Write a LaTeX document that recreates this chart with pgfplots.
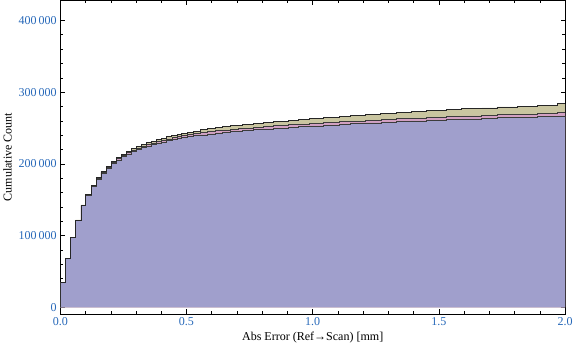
\documentclass[border=0pt]{standalone}
\usepackage{pgfplots}
\pgfplotsset{compat=1.18}
\usepackage{pgfplotstable}
\usepackage{fontspec}
\setmainfont{Liberation Serif}
\definecolor{blueA}{RGB}{160,159,204}
\definecolor{pinkA}{RGB}{210,160,194}
\definecolor{tanA}{RGB}{201,197,160}
\definecolor{edgeA}{RGB}{60,60,60}
\definecolor{tickblue}{RGB}{40,105,185}
\pgfplotstableread{
x T P B
0.000 0 0 0
0.000 34600 34600 34600
0.021 68700 68600 68500
0.041 97500 97300 97100
0.061 121800 121500 121200
0.082 142700 142300 141800
0.100 157500 157000 156400
0.122 170000 169300 168500
0.142 180500 179600 178600
0.161 189500 188400 187200
0.184 197000 195700 194300
0.204 203500 202000 200400
0.223 209000 207300 205600
0.243 213700 211800 210000
0.263 217800 215800 213900
0.283 221300 219100 217100
0.303 224300 222000 219900
0.323 227000 224600 222400
0.342 229500 227000 224700
0.362 231800 229200 226800
0.382 233900 231200 228700
0.402 235900 233000 230400
0.422 237800 234800 232100
0.442 239600 236500 233700
0.462 241200 238000 235200
0.481 242800 239500 236600
0.504 244300 240800 237800
0.528 245800 242100 239100
0.554 247400 243500 240400
0.583 249000 244900 241800
0.614 250500 246200 243000
0.643 251800 247200 244000
0.673 253000 248200 244900
0.706 254000 249000 245600
0.723 255000 249900 246500
0.766 256500 251100 247600
0.806 258000 252300 248800
0.845 259500 253500 249900
0.905 261000 254600 251000
0.944 262300 255600 251900
0.988 263500 256500 252800
1.044 265000 257700 253900
1.107 266200 258600 254800
1.150 267500 259700 255800
1.210 269000 261000 257100
1.270 270300 262000 258000
1.330 271500 262900 258900
1.390 272700 263800 259800
1.450 274000 264800 260700
1.530 275500 265900 261800
1.590 276800 266900 262700
1.670 278000 267600 263400
1.730 279300 268500 264200
1.810 280600 269300 265000
1.890 282000 270200 265800
1.970 283800 271300 266800
2.000 283800 271300 266800
}\cum
\begin{document}
\begin{tikzpicture}
\begin{axis}[
  scale only axis,
  width=504pt, height=313pt,
  xmin=0, xmax=2, ymin=-9000, ymax=428000,
  xtick={0,0.5,1,1.5,2},
  ytick={0,100000,200000,300000,400000},
  minor x tick num=4, minor y tick num=4,
  xtick pos=both, ytick pos=both,
  xticklabel pos=lower, yticklabel pos=left,
  tick align=inside,
  major tick length=4.5pt, minor tick length=3pt,
  scaled y ticks=false, scaled x ticks=false,
  /pgf/number format/assume math mode=true,
  xticklabel style={/pgf/number format/fixed, /pgf/number format/fixed zerofill, /pgf/number format/precision=1},
  yticklabel style={/pgf/number format/fixed, /pgf/number format/1000 sep={\,}},
  tick label style={font=\fontsize{12}{14}\selectfont, text=tickblue},
  label style={font=\fontsize{12}{14}\selectfont},
  xlabel={Abs Error (Ref→Scan) [mm]},
  ylabel={Cumulative Count},
  axis line style={black, line width=0.6pt},
  tick style={black, line width=0.5pt},
  clip=true,
]
\addplot[const plot, fill=tanA, draw=none] table[x=x, y=T] {\cum} \closedcycle;
\addplot[const plot, fill=pinkA, draw=none] table[x=x, y=P] {\cum} \closedcycle;
\addplot[const plot, fill=blueA, draw=none] table[x=x, y=B] {\cum} \closedcycle;
\addplot[const plot, draw=edgeA, line width=0.7pt] table[x=x, y=B] {\cum};
\addplot[const plot, draw=edgeA, line width=0.7pt] table[x=x, y=P] {\cum};
\addplot[const plot, draw=black!85, line width=0.8pt] table[x=x, y=T] {\cum};
\end{axis}
\end{tikzpicture}
\end{document}
